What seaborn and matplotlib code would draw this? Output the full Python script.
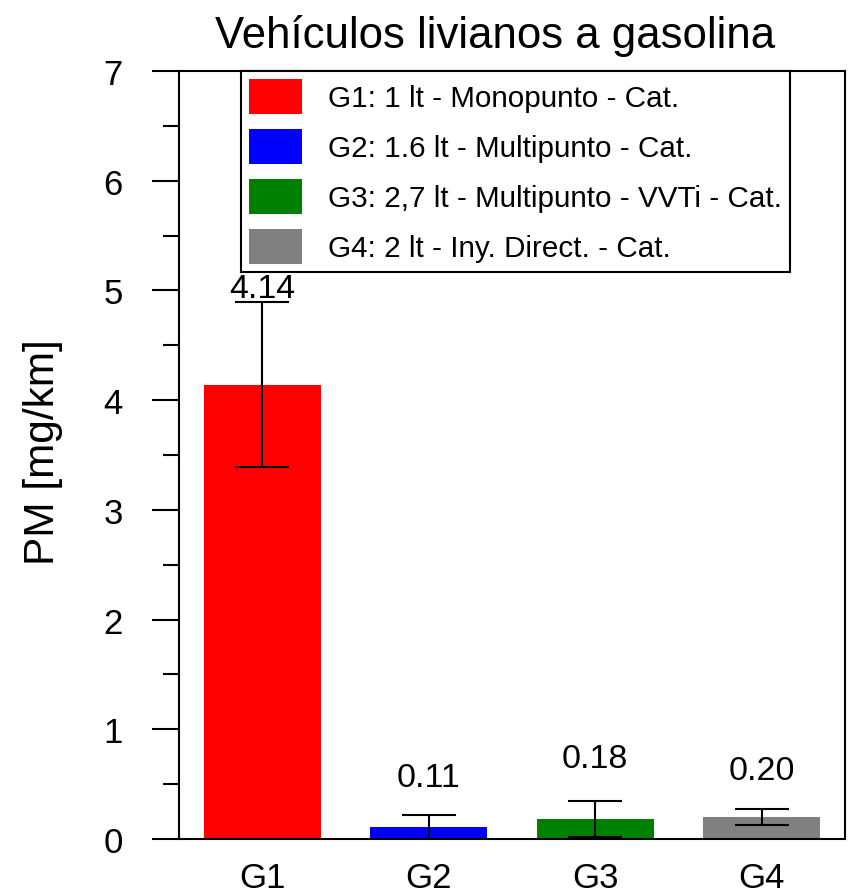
import matplotlib
matplotlib.use("Agg")
import matplotlib.pyplot as plt
from matplotlib.patches import Patch
from matplotlib.ticker import MultipleLocator
import numpy as np
import pandas as pd
import seaborn as sns

# ---- data ----
categories = ["G1", "G2", "G3", "G4"]
values = [4.14, 0.11, 0.18, 0.20]
err_low = [0.75, 0.11, 0.165, 0.07]
err_high = [0.75, 0.11, 0.165, 0.07]
value_labels = ["4.14", "0.11", "0.18", "0.20"]
label_y = [4.94, 0.48, 0.66, 0.545]
legend_labels = [
    "G1: 1 lt - Monopunto - Cat.",
    "G2: 1.6 lt - Multipunto - Cat.",
    "G3: 2,7 lt - Multipunto - VVTi - Cat.",
    "G4: 2 lt - Iny. Direct. - Cat.",
]
colors = ["#FF0000", "#0000FF", "#008000", "#808080"]
title = "Vehículos livianos a gasolina"
ylabel = "PM [mg/km]"

sns.set_style("white")
plt.rcParams["font.family"] = ["Liberation Sans", "DejaVu Sans"]
plt.rcParams["text.color"] = "black"
plt.rcParams["axes.labelcolor"] = "black"
plt.rcParams["xtick.color"] = "black"
plt.rcParams["ytick.color"] = "black"

fig = plt.figure(figsize=(8.56, 8.95), dpi=100)
ax = fig.add_axes([179 / 856, 55 / 895, 666 / 856, 768 / 895])

df = pd.DataFrame({"grupo": categories, "pm": values})
sns.barplot(data=df, x="grupo", y="pm", hue="grupo", palette=colors,
            width=0.7, errorbar=None, legend=False, ax=ax, saturation=1,
            edgecolor="none", linewidth=0)
ax.errorbar(x=np.arange(len(categories)), y=values, yerr=[err_low, err_high],
            fmt="none", ecolor="black", elinewidth=1.5, capsize=19.5,
            capthick=1.5, zorder=5)

for i, (txt, yy) in enumerate(zip(value_labels, label_y)):
    ax.text(i, yy, txt, ha="center", va="baseline", fontsize=24.5,
            color="black")

ax.set_xlim(-0.5, 3.5)
ax.set_ylim(0, 7)
ax.yaxis.set_major_locator(MultipleLocator(1))
ax.yaxis.set_minor_locator(MultipleLocator(0.5))
ax.tick_params(axis="y", which="major", direction="out", length=19.5,
               width=1.5, pad=21, labelsize=25, left=True, color="black",
               labelcolor="black")
ax.tick_params(axis="y", which="minor", direction="out", length=11.5,
               width=1.5, left=True, color="black")
ax.tick_params(axis="x", length=0, pad=16, labelsize=25, labelcolor="black")
ax.set_xlabel("")
ax.set_ylabel("")
for sp in ax.spines.values():
    sp.set_visible(True)
    sp.set_color("black")
    sp.set_linewidth(1.5)

handles = [Patch(facecolor=c, edgecolor="none") for c in colors]
fs = 21.3
em = fs * 100 / 72
h_pt = 35 * 0.72
hh = (h_pt / fs - 0.245) / 0.65
leg = ax.legend(handles, legend_labels, loc="upper left",
                bbox_to_anchor=((241 - 179) / 666, 1.0), borderaxespad=0,
                fontsize=fs, handlelength=53 / em, handleheight=hh,
                labelspacing=15 / em, handletextpad=26 / em,
                borderpad=8 / em, fancybox=False, framealpha=1,
                edgecolor="black")
leg.get_frame().set_linewidth(1.5)
for t in leg.get_texts():
    t.set_color("black")

fig.text(495 / 856, 1 - 48 / 895, title, ha="center", va="baseline",
         fontsize=31.5, color="black")
fig.text(43 / 856, 1 - 452 / 895, ylabel, rotation=90, ha="center",
         va="center", fontsize=30.5, color="black")

fig.savefig("out.png", dpi=100)
